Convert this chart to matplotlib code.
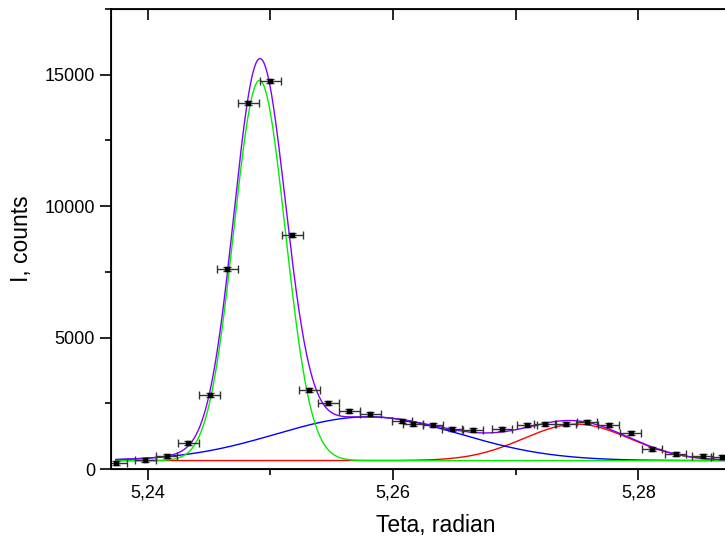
import numpy as np
import matplotlib.pyplot as plt
from matplotlib.ticker import FuncFormatter, MultipleLocator

plt.rcParams['font.family'] = ['Liberation Sans', 'DejaVu Sans']

# measured points
teta = [5.23743, 5.2398, 5.24155, 5.2433, 5.24505, 5.24648, 5.24819, 5.24998,
        5.25177, 5.25316, 5.25471, 5.25642, 5.25813, 5.26073, 5.26163, 5.26326,
        5.26481, 5.26652, 5.26888, 5.27092, 5.27238, 5.2741, 5.27581, 5.2776,
        5.27939, 5.28111, 5.28306, 5.28526, 5.2868]
counts = [240, 344, 496, 992, 2805, 7607, 13932, 14772,
          8894, 3015, 2519, 2214, 2099, 1832, 1718, 1679,
          1527, 1489, 1527, 1679, 1718, 1718, 1794, 1679,
          1374, 763, 573, 496, 458]
teta_err = 0.00085
counts_err = 80

# fitted gaussian components: baseline, centres, widths (sigma), heights
baseline = 320
centres = [5.24911, 5.25796, 5.27497]
sigmas = [0.002098, 0.0075, 0.00432]
heights = [14463, 1665, 1386]
colours = ['#00ee00', '#0000ff', '#ff0000']

x = np.linspace(5.2374, 5.292, 1500)
comps = [baseline + h * np.exp(-(x - c) ** 2 / (2 * s ** 2))
         for c, s, h in zip(centres, sigmas, heights)]
total = baseline + sum(c - baseline for c in comps)

fig = plt.figure(figsize=(7.25, 5.43), dpi=100)
ax = fig.add_axes([111 / 725, 1 - 469 / 543, (761 - 111) / 725, (469 - 9) / 543])

ax.plot(x, comps[2], color=colours[2], lw=1)
ax.plot(x, comps[1], color=colours[1], lw=1)
ax.plot(x, comps[0], color=colours[0], lw=1)
ax.plot(x, total, color='#8000ff', lw=1)

ax.errorbar(teta, counts, xerr=teta_err, yerr=counts_err, fmt='s', ms=3.5,
            color='black', ecolor='#333333', elinewidth=1, capsize=3, capthick=1)

ax.set_xlim(5.2370, 5.2900)
ax.set_ylim(0, 17500)

ax.xaxis.set_major_locator(MultipleLocator(0.02))
ax.xaxis.set_minor_locator(MultipleLocator(0.01))
ax.yaxis.set_major_locator(MultipleLocator(5000))
ax.yaxis.set_minor_locator(MultipleLocator(2500))
ax.xaxis.set_major_formatter(FuncFormatter(lambda v, p: f'{v:.2f}'.replace('.', ',')))

ax.tick_params(which='major', direction='out', length=8, width=1.2, labelsize=13)
ax.tick_params(which='minor', direction='out', length=4, width=1.2)
for side in ['left', 'bottom', 'top']:
    ax.spines[side].set_linewidth(1.3)
ax.spines['right'].set_visible(False)

ax2 = ax.twiny()
ax2.set_xlim(ax.get_xlim())
ax2.set_xticks([5.24, 5.25, 5.26, 5.27, 5.28])
ax2.tick_params(direction='in', length=8, width=1.2, labeltop=False)
ax2.spines['right'].set_visible(False)

ax.set_xlabel('Teta, radian', fontsize=16.5, labelpad=9)
ax.set_ylabel('I, counts', fontsize=16.5, labelpad=8)

fig.savefig('out.png', dpi=100)
